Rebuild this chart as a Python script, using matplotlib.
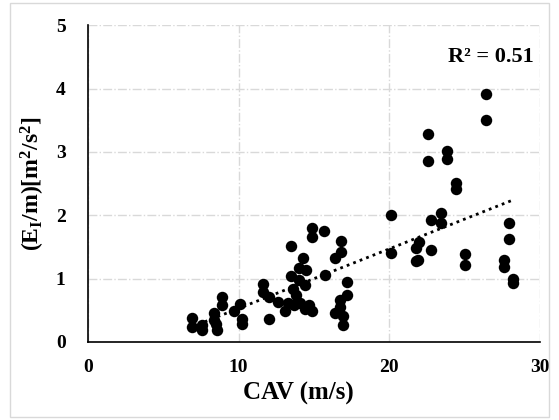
import matplotlib.pyplot as plt
import numpy as np
from matplotlib.patches import Rectangle

plt.rcParams['font.family'] = ['Liberation Serif', 'DejaVu Serif']
plt.rcParams['font.weight'] = 'bold'
plt.rcParams['mathtext.fontset'] = 'custom'
plt.rcParams['mathtext.rm'] = 'Liberation Serif:bold'
plt.rcParams['mathtext.it'] = 'Liberation Serif:bold'
plt.rcParams['mathtext.bf'] = 'Liberation Serif:bold'

# CAV (m/s) and normalised input energy per record
cav = [6.9, 6.9, 7.6, 7.6, 8.4, 8.4, 8.5, 8.6, 8.9, 8.9, 9.7, 10.1, 10.2, 10.2,
       11.6, 11.6, 12.0, 12.0, 12.6, 13.1, 13.3, 13.5, 13.5, 13.6, 13.7, 13.8,
       14.0, 14.0, 14.1, 14.3, 14.4, 14.5, 14.4, 14.7, 14.9, 14.9, 14.9, 15.7,
       15.75, 16.4, 16.8, 16.8, 17.2, 17.2, 16.7, 16.7, 16.4, 16.9, 16.9,
       20.1, 20.1, 21.8, 21.9, 22.0, 21.8, 22.8, 22.6, 22.6, 22.8, 23.4, 23.4,
       23.8, 23.8, 24.4, 24.4, 25.0, 25.0, 26.4, 26.4, 27.6, 27.6, 27.95, 27.95,
       28.2, 28.2]
energy = [0.37, 0.24, 0.27, 0.19, 0.45, 0.35, 0.28, 0.19, 0.71, 0.58, 0.48, 0.60, 0.36, 0.29,
          0.92, 0.78, 0.71, 0.36, 0.63, 0.48, 0.62, 1.52, 1.04, 0.83, 0.58, 0.74,
          1.16, 0.98, 0.62, 1.33, 0.90, 1.13, 0.52, 0.58, 1.80, 1.66, 0.48, 1.75,
          1.06, 1.32, 1.59, 1.42, 0.94, 0.74, 0.66, 0.55, 0.45, 0.41, 0.26,
          2.00, 1.40, 1.27, 1.30, 1.58, 1.49, 1.45, 3.29, 2.85, 1.93, 2.03, 1.87,
          3.02, 2.88, 2.51, 2.42, 1.38, 1.21, 3.92, 3.50, 1.30, 1.19, 1.87, 1.63,
          0.99, 0.93]
r2_label = 'R² = 0.51'

x_ticks = [0, 10, 20, 30]
y_ticks = [0, 1, 2, 3, 4, 5]

fig = plt.figure(figsize=(5.59, 4.20), dpi=100)
ax = fig.add_axes([0.157, 0.186, 0.809, 0.754])

# thin grey frame around the whole chart
fig.patches.append(Rectangle((10 / 559, 3 / 420), 539 / 559, 414 / 420,
                             transform=fig.transFigure, fill=False,
                             edgecolor='#d9d9d9', linewidth=1))

ax.scatter(cav, energy, s=68, color='black', zorder=3, linewidths=0)

# linear trendline
x = np.array(cav)
y = np.array(energy)
slope, intercept = np.polyfit(x, y, 1)
xs = np.array([x.min(), x.max()])
ax.plot(xs, slope * xs + intercept, color='black', linestyle=(0, (1, 1.5)),
        linewidth=2, zorder=2)

ax.text(29.6, 4.5, r2_label, ha='right', va='center',
        fontsize=16, fontweight='bold')

ax.set_xlim(0, 30)
ax.set_ylim(0, 5)
ax.set_xticks(x_ticks)
ax.set_yticks(y_ticks)
ax.tick_params(length=0, labelsize=14, pad=12)
ax.tick_params(axis='y', pad=16)
for lbl in ax.get_xticklabels() + ax.get_yticklabels():
    lbl.set_fontweight('bold')

ax.grid(True, color='#d9d9d9', linestyle='-.', linewidth=1)
ax.set_axisbelow(True)
for side in ['top', 'right']:
    ax.spines[side].set_visible(False)
for side in ['left', 'bottom']:
    ax.spines[side].set_linewidth(1.2)

ax.set_xlabel('CAV (m/s)', fontsize=18, fontweight='bold')
ax.xaxis.set_label_coords(0.465, -0.125)
ax.set_ylabel(r'$\mathbf{(E_I/m)[m^2/s^2]}$', fontsize=17, labelpad=6)

fig.savefig('out.png', dpi=100)
